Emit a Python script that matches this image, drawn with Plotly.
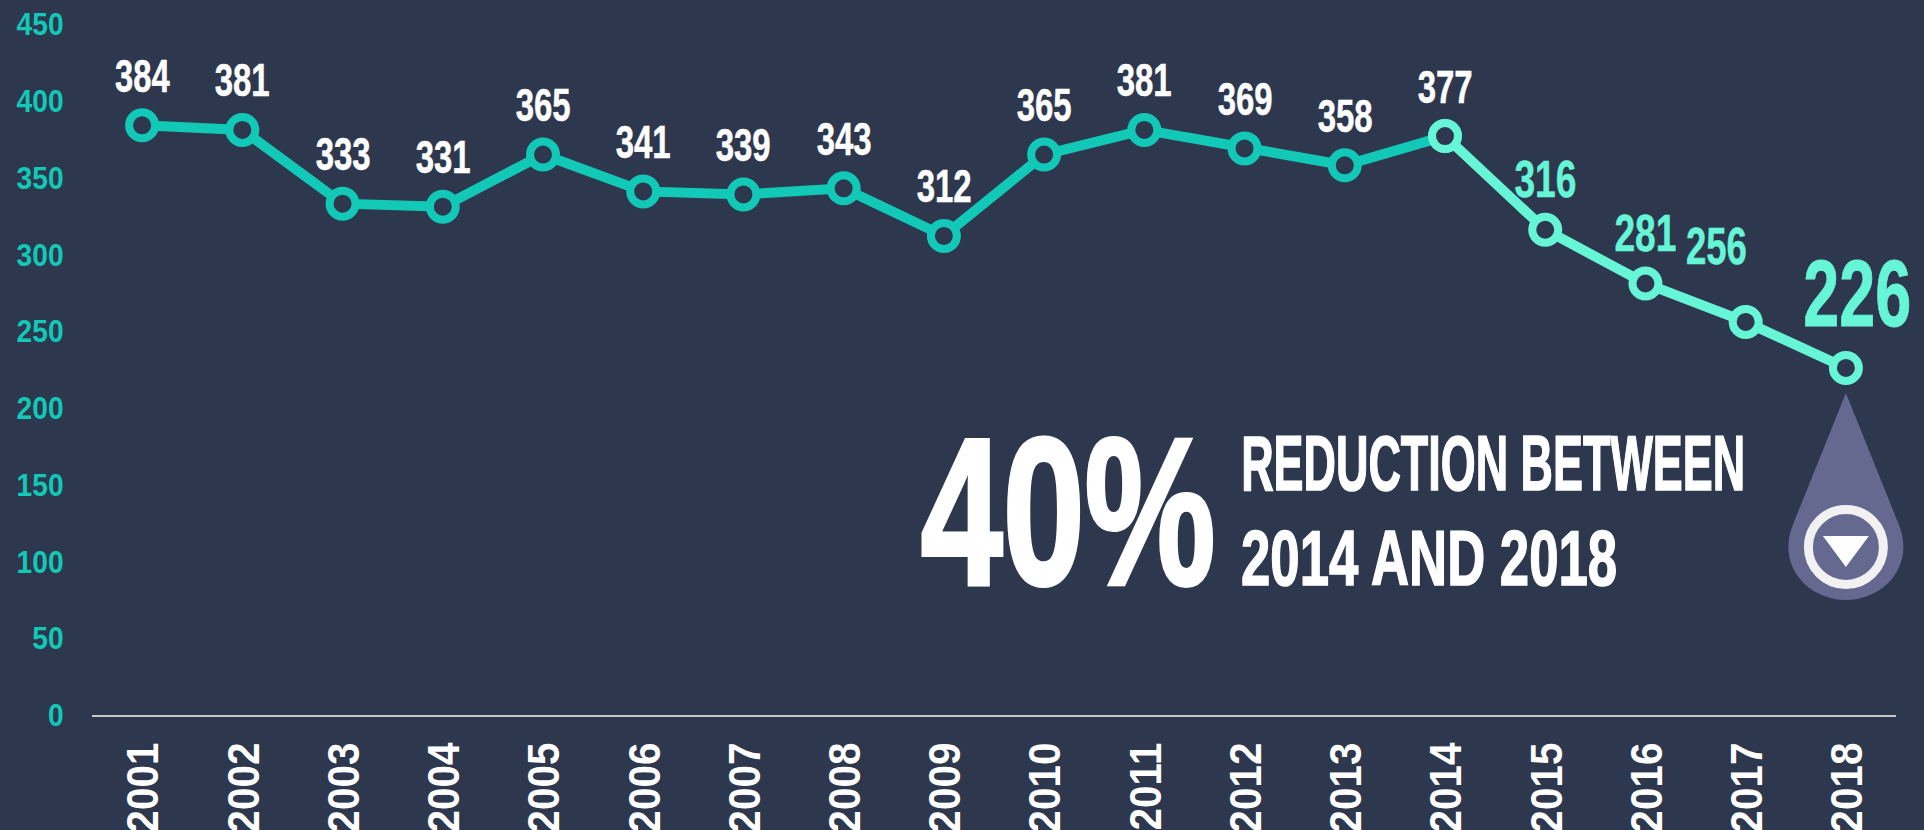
import json
import plotly.graph_objects as go

years = list(range(2001, 2019))
values = [384, 381, 333, 331, 365, 341, 339, 343, 312, 365, 381, 369, 358, 377, 316, 281, 256, 226]
y_ticks = [0, 50, 100, 150, 200, 250, 300, 350, 400, 450]
split = 13

BG = "#2d374d"
TEAL = "#12c8b6"
MINT = "#66f5d6"
DROP = "#65688f"
SANS = "Liberation Sans, sans-serif"

fig = go.Figure()
for xs, ys, col in [(years[:split + 1], values[:split + 1], TEAL), (years[split:], values[split:], MINT)]:
    fig.add_trace(go.Scatter(
        x=xs, y=ys, mode="lines+markers", cliponaxis=False, hoverinfo="skip", showlegend=False,
        line=dict(color=col, width=10),
        marker=dict(size=26, color=BG, line=dict(color=col, width=8)),
    ))

annotations = []
for i, (yr, v) in enumerate(zip(years, values)):
    col = "white" if i <= split else MINT
    size, xs, ys = 47, 0, 50
    if yr in (2015, 2016):
        size, ys = 52, 51
    if yr == 2017:
        size, xs, ys = 52, -29, 76
    if yr == 2018:
        size, xs, ys = 95, 12, 75
    annotations.append(dict(x=yr, y=v, text=str(v), showarrow=False, xshift=xs, yshift=ys,
                            xanchor="center", yanchor="middle",
                            font=dict(family=SANS, size=size, color=col, weight="bold")))

W, H = 1924, 830
L, R, T, B = 92.4, 28, 24, 114.5
PW = W - L - R
PH = H - T - B
def px(x): return (x - L) / PW
def py(y): return (H - B - y) / PH

for txt, x, y, size in [("40%", 1068, 512, 210), ("REDUCTION BETWEEN", 1239, 463, 78), ("2014 AND 2018", 1239, 558, 78)]:
    annotations.append(dict(xref="paper", yref="paper", x=px(x), y=py(y), text=txt, showarrow=False,
                            xanchor="center" if txt == "40%" else "left", yanchor="middle",
                            font=dict(family=SANS, size=size, color="white", weight="bold")))

x_range = [2000.5, 2018.5]
y_range = [0, 450]
anchor = dict(xref="paper", yref="paper", xsizemode="pixel", ysizemode="pixel",
              xanchor=(years[-1] - x_range[0]) / (x_range[1] - x_range[0]),
              yanchor=(values[-1] - y_range[0]) / (y_range[1] - y_range[0]), layer="above")
drop = ("M0,-25 L53.3,-157.5 C56.1,-164.35 57.5,-171.6 57.5,-179 "
        "C57.5,-208.3 31.76,-232 0,-232 C-31.76,-232 -57.5,-208.3 -57.5,-179 "
        "C-57.5,-171.6 -56.1,-164.35 -53.3,-157.5 Z")
shapes = [
    dict(type="path", path=drop, fillcolor=DROP, line=dict(width=0), **anchor),
    dict(type="circle", x0=-37.5, x1=37.5, y0=-216.5, y1=-141.5, fillcolor="rgba(0,0,0,0)",
         line=dict(color="#f1f1f1", width=9), **anchor),
    dict(type="path", path="M-23,-168 L23,-168 L0,-199 Z", fillcolor="white", line=dict(width=0), **anchor),
]

fig.update_layout(
    width=W, height=H, autosize=False,
    margin=dict(l=L, r=R, t=T, b=B, pad=0),
    paper_bgcolor=BG, plot_bgcolor=BG,
    annotations=annotations, shapes=shapes,
    xaxis=dict(range=x_range, tickmode="array", tickvals=years, ticktext=[str(y) for y in years],
               tickangle=-90, showgrid=False, zeroline=False, showline=True, linecolor="#c8c8c8", linewidth=2,
               ticks="outside", ticklen=8, tickcolor="rgba(0,0,0,0)", automargin=False,
               tickfont=dict(family=SANS, size=44, color="white", weight="bold")),
    yaxis=dict(range=y_range, tickmode="array", tickvals=y_ticks, showgrid=False, zeroline=False, showline=False,
               ticks="outside", ticklen=21, tickcolor="rgba(0,0,0,0)", automargin=False,
               tickfont=dict(family=SANS, size=32, color=TEAL, weight="bold")),
)

widths = {"40%": 295, "REDUCTION BETWEEN": 504, "2014 AND 2018": 376, "226": 108, "316": 62, "281": 62, "256": 61}
strokes = {"40%": 4, "REDUCTION BETWEEN": 1.5, "2014 AND 2018": 1.5, "226": 1}
post = """
document.body.style.margin='0';
document.body.style.background='%s';
document.documentElement.style.overflow='hidden';
var gd=document.getElementById('{plot_id}');
var tw=%s, sw=%s;
function squeezeOne(t,s,right,dy){
  var b=t.getBBox(); if(!b.width) return;
  var ox=right?b.x+b.width:b.x+b.width/2;
  if(t.textContent.indexOf(' ')>=0) ox=b.x;
  if(t.dataset.orig===undefined) t.dataset.orig=t.getAttribute('transform')||'';
  t.setAttribute('transform',t.dataset.orig+' translate('+ox+','+(dy||0)+') scale('+s+',1) translate('+(-ox)+',0)');
}
function squeeze(){
  gd.querySelectorAll('text.annotation-text').forEach(function(t){
    var b=t.getBBox(); if(!b.width) return;
    squeezeOne(t,(tw[t.textContent]||55)/b.width,false);
    t.style.stroke=t.style.fill; t.style.strokeWidth=(sw[t.textContent]||0.5)+'px';
  });
  gd.querySelectorAll('.ytick text').forEach(function(t){ squeezeOne(t,0.88,true); });
  gd.querySelectorAll('.xtick text').forEach(function(t){ squeezeOne(t,0.92,true,2); });
}
squeeze(); setTimeout(squeeze,50); setTimeout(squeeze,300);
""" % (BG, json.dumps(widths), json.dumps(strokes))
fig.write_html("out.html", post_script=post, config=dict(displayModeBar=False))
